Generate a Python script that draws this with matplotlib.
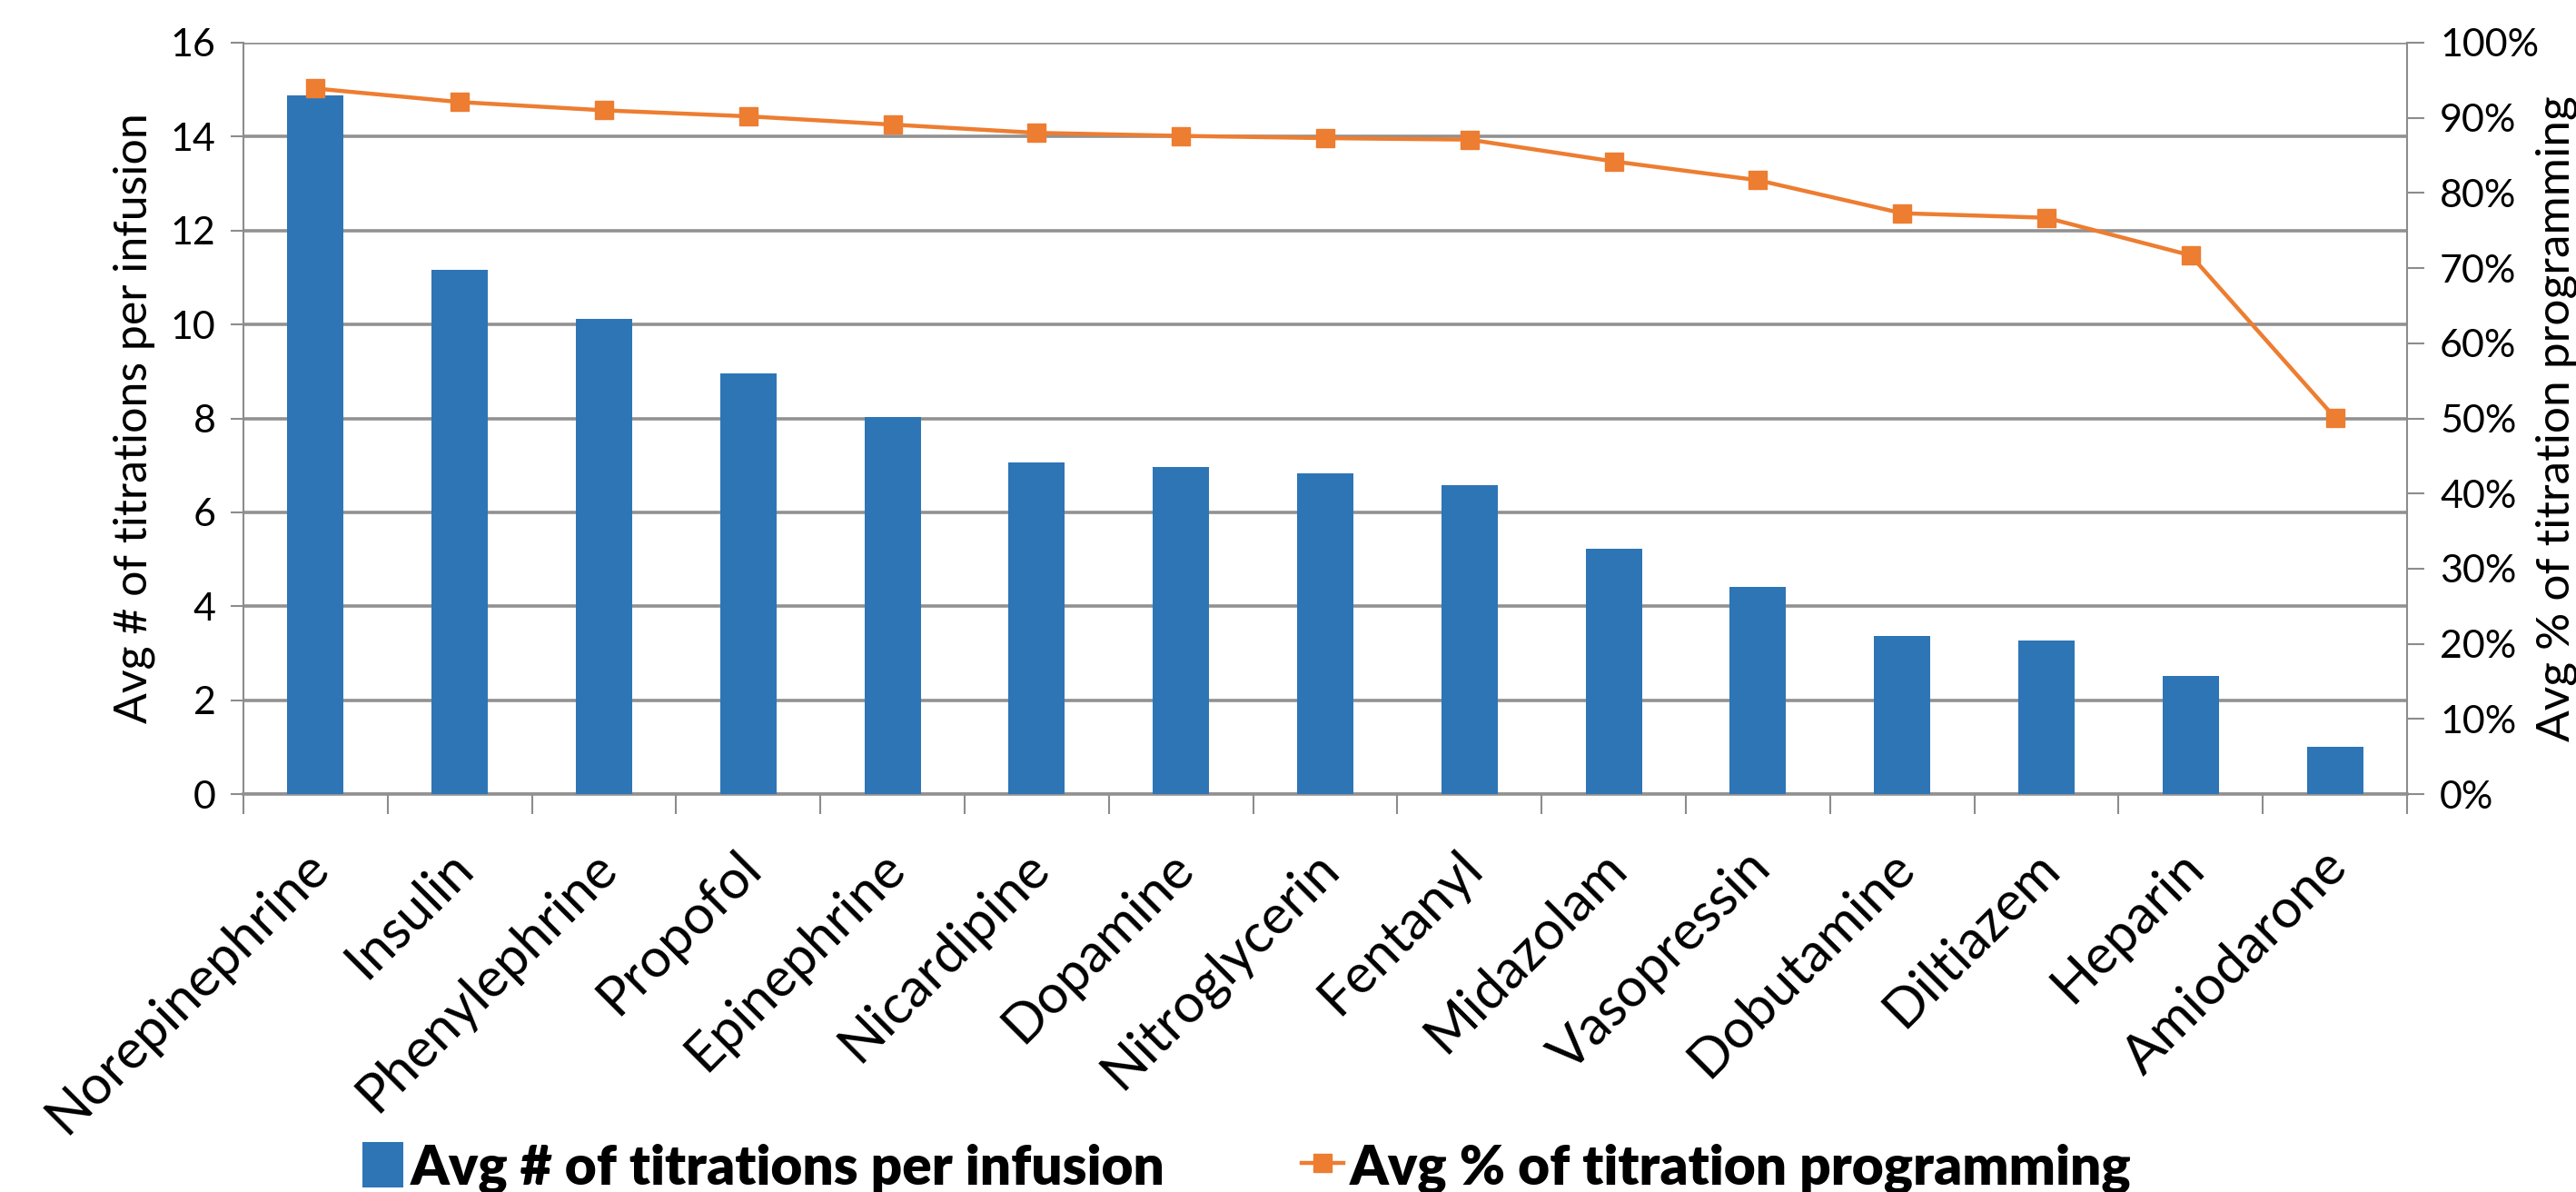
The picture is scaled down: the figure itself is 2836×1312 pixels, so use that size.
import matplotlib
matplotlib.use("Agg")
import matplotlib.pyplot as plt
import matplotlib.transforms as mtransforms
import numpy as np
from matplotlib.lines import Line2D
from matplotlib.patches import Patch

# drug names, ordered by titration count
drugs = ["Norepinephrine", "Insulin", "Phenylephrine", "Propofol", "Epinephrine",
         "Nicardipine", "Dopamine", "Nitroglycerin", "Fentanyl", "Midazolam",
         "Vasopressin", "Dobutamine", "Diltiazem", "Heparin", "Amiodarone"]
# average number of titrations per infusion
titrations = [14.87, 11.17, 10.12, 8.96, 8.02, 7.06, 6.97, 6.82, 6.57, 5.22,
              4.42, 3.37, 3.26, 2.52, 1.01]
# average share of titrations done by programming (%)
programming_pct = [93.9, 92.1, 91.0, 90.2, 89.1, 88.0, 87.6, 87.3, 87.1, 84.2,
                   81.7, 77.3, 76.7, 71.7, 50.1]

left_ticks = [0, 2, 4, 6, 8, 10, 12, 14, 16]
right_ticks = [0, 10, 20, 30, 40, 50, 60, 70, 80, 90, 100]

BAR_BLUE = "#2E75B6"
LINE_ORANGE = "#ED7D31"
GRID_GREY = "#919191"
AXIS_GREY = "#8C8C8C"
FONT = "Lato"

W, H = 2836, 1312
fig = plt.figure(figsize=(W / 100, H / 100), dpi=100)
ax = fig.add_axes([268 / W, 1 - 874 / H, (2650 - 268) / W, (874 - 47) / H])

x = np.arange(len(drugs))
ax.bar(x, titrations, width=0.39, color=BAR_BLUE, zorder=3)
ax.set_xlim(-0.5, len(drugs) - 0.5)
ax.set_ylim(0, 16)
ax.set_yticks(left_ticks)
ax.yaxis.grid(True, color=GRID_GREY, linewidth=2.6, zorder=0)
ax.set_axisbelow(True)

for side in ["top", "right"]:
    ax.spines[side].set_visible(False)
ax.spines["left"].set_color(AXIS_GREY)
ax.spines["left"].set_linewidth(1.5)
ax.spines["bottom"].set_color(GRID_GREY)
ax.spines["bottom"].set_linewidth(2.6)

ax.tick_params(axis="y", direction="out", length=10, width=1.5, color=AXIS_GREY,
               labelsize=31, pad=12)
for lab in ax.get_yticklabels():
    lab.set_fontfamily(FONT)

# category labels at bar centres, tick marks between categories
ax.set_xticks(x)
ax.set_xticklabels(drugs, rotation=45, ha="right", rotation_mode="anchor",
                   fontsize=43, fontfamily=FONT)
ax.tick_params(axis="x", which="major", length=0, pad=38)
shift = mtransforms.ScaledTranslation(-0.14, 0, fig.dpi_scale_trans)
for lab in ax.get_xticklabels():
    lab.set_transform(lab.get_transform() + shift)
ax.set_xticks(np.arange(len(drugs) + 1) - 0.5, minor=True)
ax.tick_params(axis="x", which="minor", direction="out", length=16, width=1.5,
               color=AXIS_GREY)

ax.set_ylabel("Avg # of titrations per infusion", fontsize=36, fontfamily=FONT,
              labelpad=12)

ax2 = ax.twinx()
ax2.plot(x, programming_pct, color=LINE_ORANGE, linewidth=3.2, marker="s",
         markersize=15, zorder=4)
ax2.set_ylim(0, 100)
ax2.set_yticks(right_ticks)
ax2.set_yticklabels([f"{t}%" for t in right_ticks], fontfamily=FONT)
for side in ["top", "left", "bottom"]:
    ax2.spines[side].set_visible(False)
ax2.spines["right"].set_color(AXIS_GREY)
ax2.spines["right"].set_linewidth(1.5)
ax2.tick_params(axis="y", direction="out", length=14, width=1.5, color=AXIS_GREY,
                labelsize=31, pad=12)

# right axis title runs off the figure edge
fig.text(2791 / W, 0.5 * ((1 - 874 / H) + (1 - 47 / H)),
         "Avg % of titration programming", rotation=90, fontsize=37,
         fontfamily=FONT, ha="left", va="center")

handles = [Patch(facecolor=BAR_BLUE, edgecolor="none"),
           Line2D([], [], color=LINE_ORANGE, linewidth=3.2, marker="s", markersize=15)]
fig.legend(handles, ["Avg # of titrations per infusion", "Avg % of titration programming"],
           loc="lower center", bbox_to_anchor=(0.484, -0.043), ncol=2, frameon=False,
           prop={"family": FONT, "weight": "heavy", "size": 43.5},
           handlelength=0.75, handleheight=0.9, handletextpad=0.12, columnspacing=2.5)

fig.savefig("out.png", dpi=100)
